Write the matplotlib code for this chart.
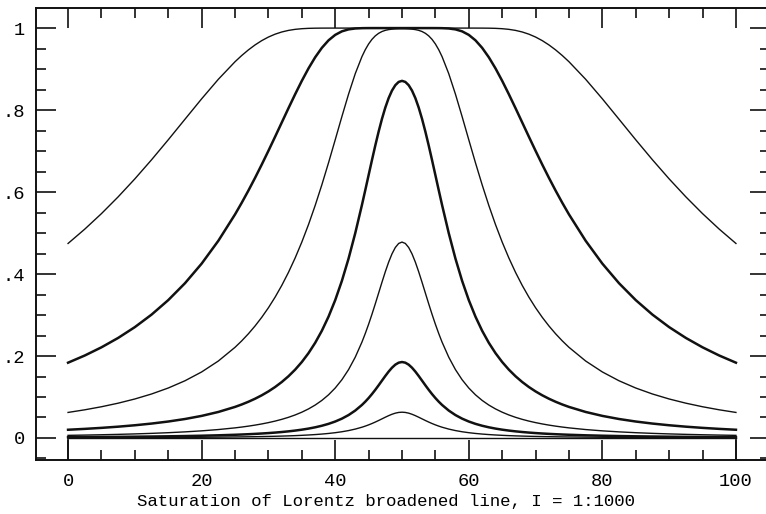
import matplotlib
matplotlib.use("Agg")
import matplotlib.pyplot as plt
import numpy as np
from matplotlib.ticker import MultipleLocator, FixedFormatter, FixedLocator

plt.rcParams['font.family'] = ['Liberation Mono', 'DejaVu Sans Mono']

# distance from line centre (x = 50); the profiles are symmetric about it
offset = [0, 0.5, 1, 1.5, 2, 2.5, 3, 3.5, 4, 4.5, 5, 5.5, 6,
          7, 8, 9, 10,
          11, 12, 13, 14, 15, 16, 17, 18, 19, 20, 21, 22, 23, 24, 25,
          27.5, 30, 32.5, 35, 37.5, 40, 42.5, 45, 47.5, 50]

# absorption depth, strongest line first
depth_1 = [1.0, 1.0, 1.0, 1.0, 1.0, 1.0, 1.0, 1.0, 1.0, 1.0, 1.0, 1.0, 1.0,
           1.0, 1.0, 1.0, 1.0,
           0.99999, 0.99993, 0.99977, 0.99936, 0.9985, 0.99692, 0.99435, 0.9905, 0.98515,
           0.97815, 0.96941, 0.95893, 0.94676, 0.93305, 0.91792,
           0.87507, 0.82742, 0.77752, 0.72747, 0.6787, 0.63212, 0.58828, 0.54737, 0.50951, 0.47458]
depth_2 = [1.0, 1.0, 1.0, 1.0, 1.0, 1.0, 1.0, 1.0, 1.0, 0.99999, 0.99996, 0.99991, 0.99978,
           0.99902, 0.99684, 0.99205, 0.98343,
           0.97012, 0.9518, 0.92876, 0.90164, 0.87127, 0.83858, 0.80452, 0.76973, 0.73491,
           0.70058, 0.66706, 0.63465, 0.60351, 0.57376, 0.54546,
           0.48108, 0.42535, 0.37747, 0.33635, 0.30097, 0.27048, 0.24411, 0.2212, 0.2012, 0.18371]
depth_3 = [0.9985, 0.9984, 0.99807, 0.99743, 0.99631, 0.99448, 0.9916, 0.98725, 0.98099,
           0.97244, 0.96123, 0.94719, 0.93032,
           0.88875, 0.83891, 0.78411, 0.72747,
           0.67143, 0.6177, 0.56727, 0.52063, 0.47795, 0.43914, 0.404, 0.37224, 0.34359,
           0.31773, 0.2944, 0.2733, 0.2542, 0.23691, 0.2212,
           0.18778, 0.16111, 0.13954, 0.1219, 0.10733, 0.09516, 0.08492, 0.07621, 0.06875, 0.06233]
depth_4 = [0.87127, 0.86863, 0.86071, 0.84752, 0.82919, 0.80602, 0.77852, 0.74736, 0.7135,
           0.67781, 0.6412, 0.6045, 0.56837,
           0.49973, 0.43776, 0.38336, 0.33635,
           0.29603, 0.26158, 0.23216, 0.20698, 0.18535, 0.16671, 0.1506, 0.13658, 0.12434,
           0.11361, 0.10415, 0.09579, 0.08836, 0.08174, 0.07582,
           0.0635, 0.0539, 0.04629, 0.04017, 0.03518, 0.03105, 0.0276, 0.02469, 0.02222, 0.0201]
depth_5 = [0.47795, 0.47458, 0.46474, 0.44917, 0.42899, 0.40548, 0.37993, 0.35353, 0.32722,
           0.30171, 0.27747, 0.25482, 0.23386,
           0.19714, 0.16688, 0.14213, 0.1219,
           0.10533, 0.09167, 0.08035, 0.07089, 0.06293, 0.05619, 0.05043, 0.04549, 0.04122,
           0.03752, 0.03427, 0.03142, 0.0289, 0.02668, 0.02469,
           0.02058, 0.01742, 0.01492, 0.01292, 0.01129, 0.00995, 0.00883, 0.0079, 0.00709, 0.00642]
depth_6 = [0.18535, 0.18371, 0.17891, 0.17144, 0.16198, 0.15126, 0.13993, 0.12854, 0.1175,
           0.10709, 0.09743, 0.08859, 0.08059,
           0.06692, 0.05596, 0.0472, 0.04017,
           0.03449, 0.02987, 0.02607, 0.02292, 0.02029, 0.01807, 0.01619, 0.01457, 0.01319,
           0.01199, 0.01094, 0.01002, 0.00921, 0.00849, 0.00785,
           0.00654, 0.00553, 0.00473, 0.00409, 0.00357, 0.00315, 0.0028, 0.0025, 0.00225, 0.00203]
depth_7 = [0.06293, 0.06233, 0.06059, 0.05789, 0.05449, 0.05067, 0.04667, 0.04268, 0.03886,
           0.03527, 0.03198, 0.02898, 0.02629,
           0.02172, 0.01809, 0.01521, 0.01292,
           0.01107, 0.00957, 0.00834, 0.00732, 0.00648, 0.00576, 0.00516, 0.00465, 0.0042,
           0.00381, 0.00348, 0.00319, 0.00293, 0.0027, 0.0025,
           0.00208, 0.00176, 0.0015, 0.0013, 0.00114, 0.001, 0.00089, 0.00079, 0.00071, 0.00064]

curves = [depth_1, depth_2, depth_3, depth_4, depth_5, depth_6, depth_7]
widths = [1.0, 1.8, 1.0, 1.8, 1.0, 1.8, 1.0]

y_ticks = [0, 0.2, 0.4, 0.6, 0.8, 1.0]
y_labels = ['0', '.2', '.4', '.6', '.8', '1']

fig = plt.figure(figsize=(7.66, 5.14), dpi=100)
ax = fig.add_axes([36 / 766, 54 / 514, 734 / 766, 452 / 514])

half = np.array(offset)
x_full = np.concatenate([50 - half[::-1], 50 + half[1:]])
for depth, lw in zip(curves, widths):
    d = np.array(depth)
    y_full = np.concatenate([d[::-1], d[1:]])
    ax.plot(x_full, y_full, color='#111111', lw=lw, solid_joinstyle='round')

ymin, ymax = -0.0537, 1.049
ax.plot([0, 100], [0, 0], color='#111111', lw=1.0)
ax.vlines([0, 100], ymin, 0, color='#111111', lw=1.2)

ax.set_xlim(-4.8, 105.1)
ax.set_ylim(ymin, ymax)

ax.xaxis.set_major_locator(MultipleLocator(20))
ax.xaxis.set_minor_locator(MultipleLocator(5))
ax.yaxis.set_major_locator(FixedLocator(y_ticks))
ax.yaxis.set_major_formatter(FixedFormatter(y_labels))
ax.yaxis.set_minor_locator(MultipleLocator(0.05))

ax.tick_params(which='both', direction='in', top=True, right=True, width=1.2, color='#111111')
ax.tick_params(which='major', length=14.5, labelsize=13.5)
ax.tick_params(axis='x', which='major', pad=9)
ax.tick_params(axis='y', which='major', pad=8)
ax.tick_params(which='minor', length=7.5)

for side in ['left', 'bottom', 'top']:
    ax.spines[side].set_linewidth(1.4)
    ax.spines[side].set_color('#111111')
ax.spines['right'].set_visible(False)

ax.set_xlabel('Saturation of Lorentz broadened line, I = 1:1000', fontsize=12.5)
ax.xaxis.set_label_coords(0.477, -0.075)

fig.savefig('out.png', dpi=100)
